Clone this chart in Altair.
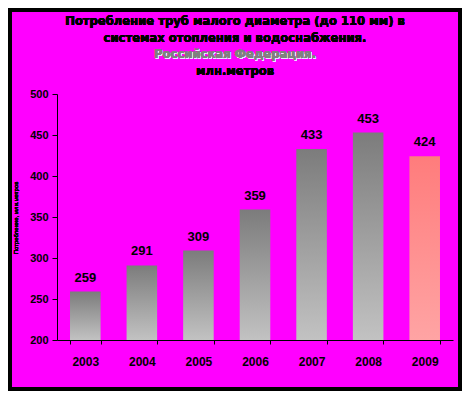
import altair as alt
import pandas as pd

years = ["2003", "2004", "2005", "2006", "2007", "2008", "2009"]
values = [259, 291, 309, 359, 433, 453, 424]
highlight = [False, False, False, False, False, False, True]
y_ticks = [200, 250, 300, 350, 400, 450, 500]
title_lines = [
    "Потребление труб малого диаметра (до 110 мм) в",
    "системах отопления и водоснабжения.",
    "Российская Федерация.",
    "млн.метров",
]
y_title = "Потребление, млн.метров"

df = pd.DataFrame({"year": years, "value": values, "hl": highlight})

W, H = 396, 246
PL, PT, PR, PB = 49, 86, 9, 51
FONT = "Liberation Sans"
TFONT = "DejaVu Sans"
TSIZE = 11.6

x_enc = alt.X(
    "year:N", sort=years,
    scale=alt.Scale(paddingInner=0.46, paddingOuter=0.23),
    axis=alt.Axis(title=None, labelAngle=0, labelFont=FONT, labelFontSize=12,
                  labelFontWeight="bold", labelColor="black", domainColor="black",
                  tickColor="black", tickSize=4, labelPadding=12, tickBand="extent",
                  domainWidth=1, tickWidth=1),
)
y_enc = alt.Y(
    "value:Q",
    scale=alt.Scale(domain=[200, 500], zero=False, nice=False),
    axis=alt.Axis(title=None, values=y_ticks, grid=False, labelFont=FONT, labelFontSize=11,
                  labelFontWeight="bold", labelColor="black", domainColor="black",
                  tickColor="black", tickSize=5, labelPadding=4),
)

gray = alt.Gradient(gradient="linear", x1=0, x2=0, y1=0, y2=1,
                    stops=[alt.GradientStop(color="#7c7c7c", offset=0),
                           alt.GradientStop(color="#c2c2c2", offset=1)])
pink = alt.Gradient(gradient="linear", x1=0, x2=0, y1=0, y2=1,
                    stops=[alt.GradientStop(color="#ff7c7c", offset=0),
                           alt.GradientStop(color="#ffa4a4", offset=1)])

base = alt.Chart(df)
bars_gray = base.transform_filter("!datum.hl").mark_bar(color=gray).encode(
    x=x_enc, y=y_enc, y2=alt.datum(200))
bars_pink = base.transform_filter("datum.hl").mark_bar(color=pink).encode(
    x=alt.X("year:N", sort=years), y="value:Q", y2=alt.datum(200))
labels = base.mark_text(font=FONT, fontSize=13, fontWeight="bold", color="black",
                        baseline="bottom", dy=-7).encode(
    x=alt.X("year:N", sort=years), y="value:Q", text="value:Q")

title_y = [-72, -55, -39, -22]
title_layers = []
for i, line in enumerate(title_lines):
    if i == 2:
        title_layers.append(alt.Chart(df).mark_text(
            text=line, font=TFONT, fontSize=TSIZE, fontWeight="bold", color="#e8e8ff",
            dx=1, dy=1).encode(x=alt.value(178), y=alt.value(title_y[i])))
        title_layers.append(alt.Chart(df).mark_text(
            text=line, font=TFONT, fontSize=TSIZE, fontWeight="bold", color="#808080").encode(
            x=alt.value(178), y=alt.value(title_y[i])))
    else:
        title_layers.append(alt.Chart(df).mark_text(
            text=line, font=TFONT, fontSize=TSIZE, fontWeight="bold", color="black").encode(
            x=alt.value(178), y=alt.value(title_y[i])))

ytitle = alt.Chart(df).mark_text(text=y_title, font=FONT, fontSize=6, angle=270,
                                 color="black").encode(
    x=alt.value(-41), y=alt.value(124))

border = alt.Chart(df).mark_rect(fill=None, stroke="black", strokeWidth=7).encode(
    x=alt.value(-PL), x2=alt.value(W + PR), y=alt.value(-PT), y2=alt.value(H + PB))

chart = alt.layer(bars_gray, bars_pink, labels, *title_layers, ytitle, border).properties(
    width=W, height=H,
    padding={"left": PL, "top": PT, "right": PR, "bottom": PB},
    autosize=alt.AutoSizeParams(type="none"),
    background="#ff00ff",
).configure_view(stroke=None)

chart.save("out.html", embed_options={"renderer": "svg", "actions": False})
